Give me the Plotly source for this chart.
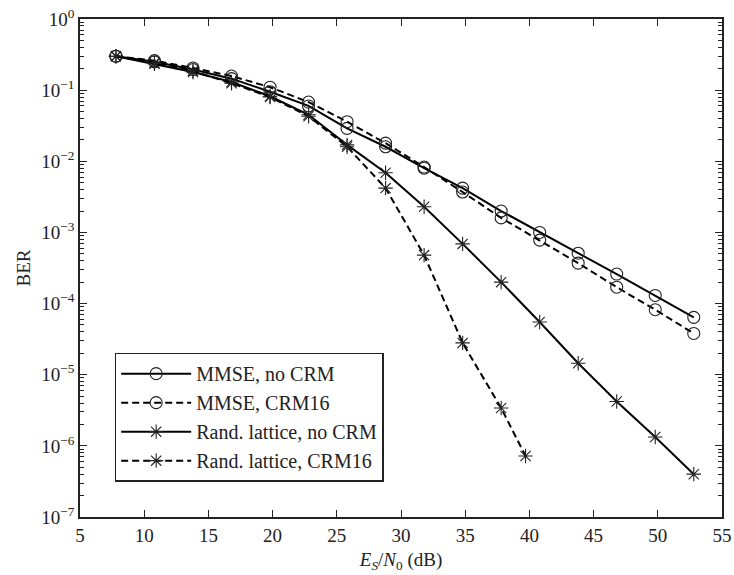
import plotly.graph_objects as go

# Es/N0 grid (dB) and measured bit error rates
snr = [7.8, 10.8, 13.8, 16.8, 19.8, 22.8, 25.8, 28.8, 31.8, 34.8,
       37.8, 40.8, 43.8, 46.8, 49.8, 52.8]
snr_lat_crm = [7.8, 10.8, 13.8, 16.8, 19.8, 22.8, 25.8, 28.8, 31.8, 34.8,
               37.8, 39.7]

ber_mmse = [0.30, 0.25, 0.195, 0.145, 0.095, 0.060, 0.029, 0.016, 0.0080,
            0.0042, 0.0020, 0.00100, 0.00051, 0.00026, 0.000130, 0.000064]
ber_mmse_crm = [0.30, 0.26, 0.205, 0.158, 0.110, 0.068, 0.036, 0.018, 0.0083,
                0.0037, 0.0016, 0.00078, 0.00037, 0.00017, 0.000082, 0.000038]
ber_lat = [0.30, 0.235, 0.18, 0.13, 0.082, 0.045, 0.017, 0.0069, 0.0023,
           0.00069, 0.00020, 0.000055, 0.0000145, 0.0000042, 0.00000133,
           0.00000040]
ber_lat_crm = [0.30, 0.24, 0.185, 0.125, 0.080, 0.043, 0.016, 0.0042,
               0.00048, 0.000028, 0.0000034, 0.00000072]

series = [
    ("MMSE, no CRM", snr, ber_mmse, "solid", "circle-open"),
    ("MMSE, CRM16", snr, ber_mmse_crm, "7px,4px", "circle-open"),
    ("Rand. lattice, no CRM", snr, ber_lat, "solid", "asterisk-open"),
    ("Rand. lattice, CRM16", snr_lat_crm, ber_lat_crm, "7px,4px", "asterisk-open"),
]

ytick_vals = [10.0 ** k for k in range(-7, 1)]
ytick_text = ["10<sup>" + ("\u2212" if k < 0 else "") + str(abs(k)) + "</sup>"
              for k in range(-7, 1)]

fig = go.Figure()
for name, xs, ys, dash, sym in series:
    fig.add_trace(go.Scatter(
        x=xs, y=ys, name=name, mode="lines+markers",
        line=dict(color="black", width=2, dash=dash),
        marker=dict(symbol=sym, size=12, color="#222222",
                    line=dict(width=1.1, color="#222222")),
    ))

font = "Liberation Serif, Times New Roman, serif"
fig.update_layout(
    width=734, height=575,
    margin=dict(l=80, r=12, t=19, b=58),
    paper_bgcolor="white", plot_bgcolor="white",
    font=dict(family=font, size=19, color="#222222"),
    showlegend=True,
    legend=dict(
        x=0.054, y=0.33, xanchor="left", yanchor="top",
        bgcolor="white", bordercolor="#222222", borderwidth=1.5,
        font=dict(family=font, size=20, color="#222222"),
        itemwidth=70, tracegroupgap=0,
    ),
    xaxis=dict(
        range=[5, 55], dtick=5, tick0=5, automargin=False,
        ticks="inside", ticklen=7, tickwidth=1.2, tickcolor="#222222",
        showline=True, linecolor="#222222", linewidth=1.5, mirror="allticks",
        showgrid=False, zeroline=False,
        title=dict(text="<i>E</i><sub><i>S</i></sub>/<i>N</i><sub>0</sub> (dB)",
                   standoff=8, font=dict(size=19)),
    ),
    yaxis=dict(
        type="log", range=[-7, 0], automargin=False,
        tickmode="array", tickvals=ytick_vals, ticktext=ytick_text,
        ticks="inside", ticklen=7, tickwidth=1.2, tickcolor="#222222",
        minor=dict(ticks="inside", ticklen=4, tickwidth=1, tickcolor="#222222",
                   dtick="D1", showgrid=False),
        showline=True, linecolor="#222222", linewidth=1.5, mirror="allticks",
        showgrid=False, zeroline=False,
        title=dict(text="BER", standoff=6, font=dict(size=19)),
    ),
)

fig.write_html("out.html")
